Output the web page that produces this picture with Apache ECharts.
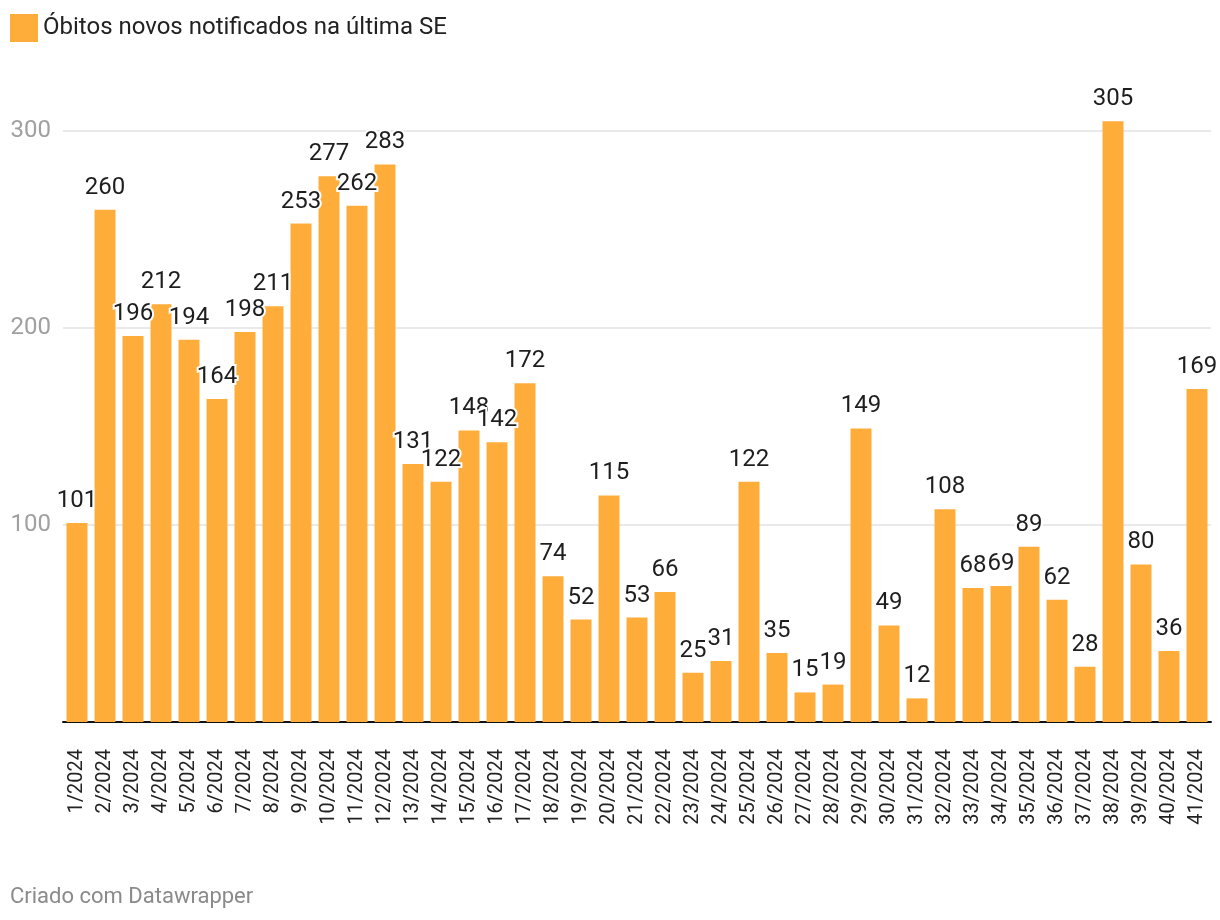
<!DOCTYPE html>
<html>
<head>
<meta charset="utf-8">
<script src="https://cdn.jsdelivr.net/npm/echarts@6/dist/echarts.min.js"></script>
<style>
html,body{margin:0;padding:0;background:#fff;}
#chart{width:1220px;height:920px;}
</style>
</head>
<body>
<div id="chart"></div>
<script>
const categories = ["1/2024","2/2024","3/2024","4/2024","5/2024","6/2024","7/2024","8/2024","9/2024","10/2024","11/2024","12/2024","13/2024","14/2024","15/2024","16/2024","17/2024","18/2024","19/2024","20/2024","21/2024","22/2024","23/2024","24/2024","25/2024","26/2024","27/2024","28/2024","29/2024","30/2024","31/2024","32/2024","33/2024","34/2024","35/2024","36/2024","37/2024","38/2024","39/2024","40/2024","41/2024"];
const obitos = [101,260,196,212,194,164,198,211,253,277,262,283,131,122,148,142,172,74,52,115,53,66,25,31,122,35,15,19,149,49,12,108,68,69,89,62,28,305,80,36,169];
const seriesName = "Óbitos novos notificados na última SE";
const footer = "Criado com Datawrapper";

const chart = echarts.init(document.getElementById('chart'), null, {renderer:'canvas'});
const FONT = 'Roboto, "Noto Sans", sans-serif';
chart.setOption({
  animation:false,
  textStyle:{fontFamily:FONT},
  legend:{
    left:10, top:14, padding:0, icon:'rect', itemWidth:28, itemHeight:28, itemGap:10,
    textStyle:{fontSize:24, color:'#222', fontFamily:FONT},
    data:[seriesName]
  },
  graphic:[{
    type:'text', left:10, top:886,
    style:{text:footer, fontSize:22, fill:'#8a8a8a', fontFamily:FONT}
  }],
  grid:{left:63, right:9, top:131, bottom:198, containLabel:false},
  xAxis:{
    type:'category', data:categories, boundaryGap:true,
    axisLine:{lineStyle:{color:'#111', width:2}},
    axisTick:{alignWithLabel:true, length:9, lineStyle:{color:'#111', width:2}},
    axisLabel:{rotate:90, fontSize:20, color:'#222', margin:27, interval:0, fontFamily:FONT}
  },
  yAxis:{
    type:'value', min:0, max:300, interval:100,
    axisLine:{show:false}, axisTick:{show:false},
    axisLabel:{fontSize:24, color:'#a0a0a0', margin:12, fontFamily:FONT,
      formatter:v=> v===0 ? '' : String(v)},
    splitLine:{lineStyle:{color:'#e2e2e2', width:1.5}}
  },
  series:[{
    name:seriesName, type:'bar', data:obitos, clip:false,
    barCategoryGap:'25%',
    itemStyle:{color:'#ffad3a'},
    label:{show:true, position:'top', distance:10, fontSize:24, color:'#1e1e1e',
      fontFamily:FONT, textBorderColor:'#fff', textBorderWidth:4}
  }]
});
</script>
</body>
</html>
